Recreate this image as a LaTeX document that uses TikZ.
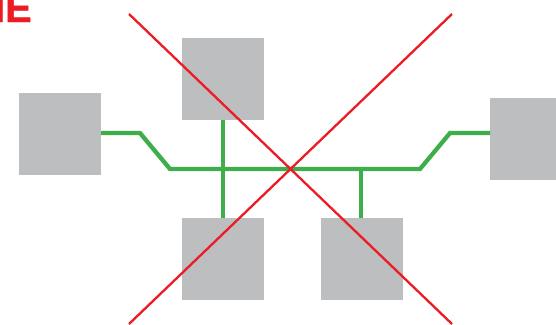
\documentclass[tikz,border=0pt]{standalone}
\usepackage{fontspec}
\setmainfont{Liberation Sans}
\newfontfamily\lblfont[FakeBold=1.2]{Liberation Sans Bold}
\definecolor{boxgray}{HTML}{BCBEC0}
\definecolor{lgreen}{HTML}{3DAE49}
\definecolor{xred}{HTML}{ED1C24}
\begin{document}
\begin{tikzpicture}[x=1pt,y=-1pt,
  blk/.style={fill=boxgray,draw=none,minimum width=82pt,minimum height=82pt,inner sep=0pt,outer sep=0pt},
  wire/.style={draw=lgreen,line width=4.3pt},
  cross/.style={draw=xred,line width=2.3pt}]
\useasboundingbox (0,0) rectangle (556,324);
\clip (0,0) rectangle (556,324);
\node[blk] (L) at (60,134) {};
\node[blk] (T) at (223,79) {};
\node[blk] (R) at (531,139) {};
\node[blk] (BL) at (223,259) {};
\node[blk] (BR) at (362,259) {};
\coordinate (a1) at (140,133);
\coordinate (a2) at (170,169);
\coordinate (a3) at (420,169);
\coordinate (a4) at (450,133);
\coordinate (j1) at (223,169);
\coordinate (j2) at (361,169);
\draw[wire] (L.east |- a1) -- (a1) -- (a2) -- (a3) -- (a4) -- (R.west |- a4);
\draw[wire] (T.south -| j1) -- (BL.north -| j1);
\draw[wire] (j2) -- (BR.north -| j2);
\coordinate (x1) at (129,14);
\coordinate (x2) at (452,324);
\coordinate (x3) at (452,14);
\coordinate (x4) at (129,324);
\draw[cross] (x1) -- (x2);
\draw[cross] (x3) -- (x4);
\node[anchor=base east,text=xred,font=\lblfont\fontsize{40}{40}\selectfont,inner sep=0pt] (lbl) at (32,22) {NE};
\end{tikzpicture}
\end{document}
